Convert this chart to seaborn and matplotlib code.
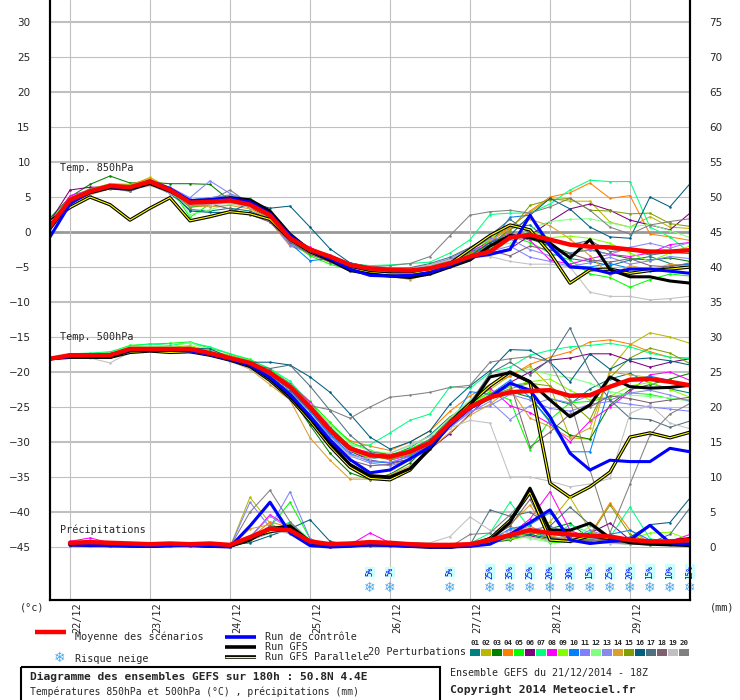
import matplotlib
matplotlib.use("Agg")
import matplotlib.pyplot as plt
import matplotlib.transforms as mtrans
from matplotlib.patches import Rectangle
import pandas as pd
import seaborn as sns

# ==============================================================================
# Data (GEFS ensemble, 6-hourly steps from 21/12 18Z)
# ==============================================================================
steps = list(range(33))
precip_steps = list(range(1, 33))

members = [f"{i:02d}" for i in range(1, 21)]
member_colors = ["#008080", "#b8b800", "#008000", "#ff8000", "#00ff00",
                 "#800080", "#00ff80", "#ff00ff", "#80ff00", "#0080ff",
                 "#8080ff", "#80ff80", "#8888ee", "#d8a030", "#80a000",
                 "#006080", "#507080", "#806070", "#c0c0c0", "#808080"]

date_labels = ["22/12", "23/12", "24/12", "25/12", "26/12", "27/12", "28/12", "29/12"]
date_steps = [1, 5, 9, 13, 17, 21, 25, 29]

snow_steps = [16, 17, 20, 22, 23, 24, 25, 26, 27, 28, 29, 30, 31, 32]
snow_pct = [5, 5, 5, 25, 35, 25, 20, 30, 15, 25, 20, 15, 10, 15]

# --- Temperature 850 hPa ---
t850_mean = [0.8, 4.6, 5.8, 6.6, 6.4, 7.2, 6.0, 4.2, 4.3, 4.5, 3.9, 2.4, -0.9, -2.5, -3.5, -4.7, -5.2, -5.4, -5.5, -5.2,
             -4.5, -3.5, -2.8, -0.8, -0.4, -1.1, -1.8, -2.1, -2.2, -2.5, -2.8, -2.8, -2.6]
t850_ctrl = [-0.7, 4.0, 5.8, 6.5, 6.3, 7.3, 6.2, 4.5, 4.6, 4.8, 4.3, 2.6, -0.5, -2.6, -3.8, -5.3, -6.2, -6.3, -6.2, -5.8,
             -4.8, -3.6, -3.2, -2.5, 2.4, -2.0, -5.0, -5.2, -5.9, -5.3, -5.3, -5.6, -5.9]
t850_gfs = [0.5, 4.2, 5.6, 6.3, 6.1, 6.9, 5.8, 4.3, 4.6, 4.9, 4.6, 3.0, -0.3, -2.6, -4.0, -5.5, -6.0, -6.3, -6.5, -6.0,
            -5.0, -4.0, -2.0, -0.5, -0.8, -1.6, -3.7, -1.1, -5.4, -6.4, -6.4, -7.0, -7.3]
t850_para = [1.5, 3.5, 5.0, 3.9, 1.7, 3.4, 4.9, 1.6, 2.2, 2.9, 2.6, 1.8, -1.0, -2.8, -4.0, -5.2, -5.8, -6.0, -6.0, -5.5,
             -4.5, -2.5, -0.5, 1.0, 0.3, -3.0, -7.3, -5.4, -5.3, -5.9, -5.5, -5.3, -5.0]
t850_members = [
    [1.2, 4.2, 5.5, 6.3, 6.0, 6.8, 5.5, 3.2, 3.0, 3.4, 3.0, 1.8, -1.3, -2.8, -3.7, -5.0, -5.5, -5.3, -5.6, -5.1, -4.2, -3.3, -2.0, 0.5, 1.0, -1.5, -3.8, -4.2, -4.8, -4.0, -3.5, -4.5, -5.2],
    [1.0, 4.8, 6.2, 6.8, 6.6, 7.8, 6.3, 4.6, 4.5, 4.8, 4.1, 2.8, -0.5, -2.3, -3.4, -4.6, -5.1, -5.6, -5.7, -5.4, -4.6, -3.2, -1.5, 0.8, 2.8, 4.8, 4.4, 4.4, 1.4, 0.7, 2.2, 0.7, 0.5],
    [2.0, 5.0, 6.8, 8.0, 7.0, 7.1, 6.9, 6.9, 6.8, 4.5, 3.5, 2.0, -1.5, -3.0, -4.0, -5.5, -5.8, -5.9, -5.9, -5.5, -4.8, -3.6, -2.4, -0.3, -1.0, -2.0, -3.0, -2.5, -3.2, -3.8, -4.0, -3.7, -4.2],
    [0.5, 4.5, 6.0, 6.9, 6.8, 7.6, 6.2, 4.0, 4.0, 4.2, 3.5, 1.5, -2.0, -3.0, -4.2, -5.0, -5.3, -5.8, -6.0, -5.4, -4.6, -3.3, -1.0, 0.6, 3.0, 5.0, 5.6, 7.0, 4.8, 5.2, -0.3, -0.7, -1.2],
    [1.8, 4.6, 5.9, 6.7, 6.6, 7.0, 6.4, 2.1, 4.0, 4.8, 4.8, 2.8, -1.4, -3.4, -4.6, -5.4, -5.5, -5.6, -5.4, -5.0, -4.4, -3.0, -1.2, -0.6, -1.5, -3.0, -4.0, -6.0, -6.5, -7.9, -6.8, -6.0, -6.3],
    [1.5, 6.0, 6.4, 6.4, 6.2, 7.0, 6.2, 4.5, 4.8, 4.6, 3.8, 2.2, -1.0, -2.4, -3.6, -4.8, -5.6, -6.0, -6.4, -6.0, -5.0, -3.8, -3.0, -2.4, -0.5, 1.5, 3.3, 4.0, 3.1, 1.7, 1.0, 0.3, 2.7],
    [0.9, 4.3, 5.6, 6.2, 6.1, 6.8, 5.6, 3.6, 3.9, 4.4, 3.7, 2.1, -1.1, -2.6, -3.9, -4.5, -4.8, -4.7, -4.5, -4.3, -3.0, -1.1, 2.5, 2.7, 2.7, 4.0, 6.0, 7.4, 7.2, 7.2, 0.7, -0.7, -3.0],
    [1.1, 5.2, 6.0, 6.5, 6.3, 7.1, 5.9, 4.4, 4.1, 4.3, 3.5, 2.5, -0.8, -2.2, -3.5, -4.9, -5.4, -5.5, -5.7, -5.1, -4.2, -2.8, -1.4, -0.2, -1.2, -4.0, -4.6, -3.8, -3.2, -3.5, -3.0, -1.8, -1.5],
    [1.3, 4.7, 6.1, 6.9, 6.7, 7.5, 6.1, 4.2, 4.4, 4.5, 4.0, 2.6, -0.6, -2.4, -3.3, -4.6, -5.0, -5.3, -5.4, -4.8, -4.0, -2.6, -1.0, 1.0, 0.2, -0.8, -0.6, -0.9, -1.6, -3.0, -4.2, -3.0, -2.0],
    [0.2, 4.1, 5.7, 6.4, 6.2, 7.0, 5.8, 4.6, 4.9, 5.2, 4.2, 2.3, -1.6, -4.1, -3.8, -4.9, -5.3, -5.7, -5.8, -5.3, -4.3, -2.9, -1.8, 2.1, 2.4, -1.5, -4.8, -5.0, -4.5, -5.2, -5.6, -4.8, -4.6],
    [0.8, 4.4, 5.9, 6.4, 6.5, 7.1, 6.4, 4.9, 7.3, 5.5, 4.4, 2.0, -1.9, -2.8, -3.3, -4.4, -5.0, -5.1, -5.2, -4.7, -3.8, -2.3, -2.8, -2.0, -3.6, -4.2, -4.9, -4.4, -3.6, -4.6, -4.1, -3.5, -3.8],
    [1.4, 4.9, 6.1, 6.6, 6.4, 7.3, 6.2, 2.5, 3.2, 4.0, 3.6, 2.7, -0.7, -2.7, -3.9, -5.6, -5.8, -6.0, -6.2, -5.6, -4.7, -3.6, -2.2, -1.6, 0.4, 1.5, 1.8, 1.9, 1.3, 0.7, 1.1, 0.2, -0.8],
    [0.6, 4.5, 5.8, 6.2, 5.8, 6.9, 5.5, 4.4, 4.9, 5.3, 4.5, 1.5, -1.8, -2.9, -3.6, -4.8, -5.2, -5.3, -5.4, -4.9, -4.0, -2.6, -0.9, -1.0, -2.5, -3.4, -3.0, -2.6, -3.2, -2.2, -1.6, -2.3, -1.5],
    [0.4, 4.0, 5.3, 6.2, 6.1, 7.5, 5.9, 3.8, 3.6, 3.8, 3.3, 1.9, -1.2, -2.6, -4.0, -5.3, -5.6, -6.3, -6.8, -5.9, -4.8, -3.4, -1.3, 0.4, 1.8, 0.9, -1.0, -3.4, -6.2, -4.8, -5.4, -4.6, -4.9],
    [1.0, 4.6, 6.2, 6.7, 6.5, 7.4, 6.1, 3.5, 3.9, 4.4, 3.8, 2.5, -0.8, -3.0, -4.3, -5.3, -5.5, -5.7, -5.5, -5.0, -4.1, -3.0, -1.9, 0.2, 3.8, 4.6, 4.8, 3.1, 3.0, 2.6, 2.7, 1.2, 0.8],
    [1.6, 4.4, 5.6, 6.3, 6.2, 6.9, 5.9, 3.0, 2.8, 2.8, 4.2, 3.4, 3.7, 0.7, -2.4, -4.4, -5.0, -5.6, -5.8, -5.2, -4.7, -3.4, -1.5, -0.5, 2.4, 4.8, 3.3, 0.7, -0.7, -0.9, 5.0, 3.6, 6.9],
    [1.1, 4.7, 5.9, 6.5, 6.4, 7.0, 5.8, 4.0, 4.2, 4.5, 3.8, 2.2, -1.0, -2.6, -3.7, -4.9, -5.1, -5.2, -5.1, -4.5, -3.6, -2.2, -0.5, 1.8, -0.2, -1.2, -1.8, -1.2, -2.8, -2.5, -3.3, -2.9, -3.1],
    [0.9, 4.3, 5.7, 6.4, 5.9, 7.0, 5.7, 3.8, 4.0, 3.3, 2.5, 1.4, -1.4, -3.2, -4.3, -5.6, -6.0, -6.1, -6.0, -5.4, -4.6, -3.5, -2.6, -3.4, -2.0, -2.6, -3.1, -4.0, -4.3, -3.8, -4.8, -5.0, -4.4],
    [0.7, 4.1, 5.4, 6.2, 6.0, 6.6, 5.6, 3.9, 3.9, 4.1, 3.6, 2.3, -1.0, -2.4, -3.4, -4.5, -5.0, -5.3, -5.3, -4.7, -4.0, -3.6, -3.5, -4.2, -4.6, -4.6, -5.0, -8.6, -9.2, -9.2, -9.7, -9.5, -9.2],
    [1.2, 4.9, 6.1, 6.6, 5.8, 7.0, 6.0, 4.0, 4.5, 6.0, 4.0, 2.0, -0.8, -2.5, -3.5, -4.6, -5.0, -4.8, -4.5, -3.5, -0.5, 2.4, 2.9, 3.1, 2.7, 3.6, 4.8, 3.1, 0.7, -0.3, 1.0, 1.5, 1.9],
]

# --- Temperature 500 hPa ---
t500_mean = [-18.1, -17.6, -17.6, -17.6, -16.7, -16.7, -16.7, -16.7, -17.3, -18.0, -18.7, -20.1, -22.1, -25.0, -28.3, -30.9,
             -31.9, -32.1, -31.4, -30.1, -27.3, -25.0, -23.6, -22.9, -22.7, -22.6, -23.4, -23.3, -22.1, -21.1, -21.0, -21.4, -21.9]
t500_ctrl = [-18.1, -17.8, -17.7, -17.5, -16.9, -16.8, -16.9, -17.0, -17.5, -18.2, -19.0, -20.8, -23.2, -26.3, -29.7, -32.5,
             -34.4, -34.0, -32.4, -30.7, -27.6, -25.2, -23.6, -21.6, -22.6, -26.4, -31.6, -34.0, -32.6, -32.8, -32.8, -30.9, -31.4]
t500_gfs = [-18.1, -17.7, -17.8, -17.9, -17.0, -16.9, -16.9, -16.9, -17.4, -18.2, -19.1, -21.0, -23.5, -26.6, -30.2, -33.2,
            -34.8, -35.0, -33.8, -31.0, -27.5, -24.8, -20.7, -20.1, -21.4, -24.0, -26.4, -24.7, -20.7, -22.1, -22.3, -22.2, -21.9]
t500_para = [-18.1, -17.9, -17.9, -17.9, -17.2, -17.0, -17.2, -17.1, -17.6, -18.3, -19.2, -21.2, -23.7, -27.0, -30.6, -33.6,
             -35.2, -35.4, -34.0, -30.8, -27.2, -24.5, -22.0, -20.0, -21.4, -35.9, -37.9, -36.4, -34.3, -29.3, -28.7, -29.4, -28.6]
t500_members = [
    [-18.0, -17.5, -17.4, -17.6, -16.8, -16.6, -16.8, -16.9, -17.5, -18.3, -19.2, -20.6, -22.8, -25.6, -28.9, -31.2, -32.4, -32.0, -30.8, -29.0, -26.4, -24.6, -23.5, -22.0, -21.5, -23.8, -24.6, -22.4, -21.0, -20.2, -21.6, -22.4, -23.0],
    [-18.1, -17.4, -17.5, -17.3, -16.6, -16.5, -16.6, -16.4, -17.0, -17.6, -18.4, -19.8, -21.9, -24.8, -28.0, -30.6, -31.8, -32.4, -31.6, -29.8, -26.5, -24.2, -22.5, -20.5, -19.2, -22.0, -29.4, -29.6, -19.6, -16.1, -14.4, -15.0, -15.9],
    [-18.1, -17.7, -17.8, -17.6, -16.9, -16.8, -16.7, -16.9, -17.4, -18.2, -19.3, -21.0, -23.4, -27.6, -31.6, -34.4, -35.4, -34.6, -33.0, -30.2, -27.0, -25.3, -23.9, -22.8, -23.6, -27.0, -29.0, -29.6, -24.7, -22.5, -21.8, -21.0, -20.2],
    [-18.1, -17.6, -17.5, -17.5, -16.6, -16.6, -16.5, -16.6, -17.2, -17.9, -18.5, -19.9, -22.0, -24.6, -27.5, -29.8, -30.6, -31.2, -30.0, -28.4, -25.6, -23.4, -21.8, -20.6, -18.9, -17.9, -17.1, -15.7, -15.4, -16.0, -17.1, -17.9, -18.0],
    [-18.0, -17.5, -17.4, -17.2, -16.2, -16.0, -15.9, -15.7, -16.6, -17.4, -18.2, -19.6, -21.6, -24.2, -27.2, -30.0, -31.2, -31.8, -31.0, -29.6, -27.2, -24.6, -22.8, -24.0, -31.1, -26.8, -24.4, -24.2, -23.6, -23.0, -23.2, -23.8, -24.0],
    [-18.1, -17.7, -17.6, -17.5, -16.8, -16.7, -16.6, -16.8, -17.4, -18.1, -18.8, -20.4, -22.5, -25.4, -28.6, -31.3, -32.6, -33.0, -32.5, -31.0, -28.8, -26.0, -23.4, -21.5, -20.0, -18.3, -18.0, -17.4, -17.4, -18.4, -19.3, -18.6, -18.1],
    [-18.0, -17.4, -17.3, -17.1, -16.3, -16.0, -16.2, -15.8, -16.4, -17.4, -18.3, -19.5, -21.3, -24.5, -27.8, -30.6, -30.4, -28.7, -26.9, -26.0, -22.1, -22.3, -20.1, -19.3, -17.6, -16.9, -16.4, -16.2, -15.9, -16.4, -17.3, -17.9, -18.1],
    [-18.1, -17.6, -17.7, -17.5, -16.7, -16.8, -16.7, -16.8, -17.3, -18.0, -18.7, -19.9, -21.7, -24.3, -27.9, -30.8, -31.5, -32.6, -31.9, -30.6, -27.6, -24.4, -22.3, -24.8, -25.8, -27.4, -30.0, -27.0, -25.0, -22.8, -20.4, -20.0, -21.2],
    [-18.1, -17.6, -17.5, -17.4, -16.5, -16.6, -16.5, -16.2, -17.0, -17.8, -18.6, -20.2, -22.3, -25.3, -28.5, -31.2, -32.3, -32.0, -31.2, -29.8, -27.0, -24.7, -23.0, -22.0, -21.4, -21.0, -22.6, -24.0, -23.5, -22.0, -21.5, -22.5, -23.6],
    [-18.1, -17.6, -17.6, -17.7, -16.8, -16.7, -16.8, -16.9, -17.4, -18.1, -18.9, -20.4, -22.5, -25.6, -29.0, -31.6, -32.8, -33.0, -32.0, -30.4, -27.6, -22.8, -23.2, -21.2, -23.6, -27.2, -31.4, -31.4, -22.0, -21.0, -20.6, -21.2, -22.0],
    [-18.1, -17.7, -17.6, -17.6, -16.7, -16.7, -16.8, -16.7, -17.5, -18.3, -19.2, -20.8, -23.0, -26.0, -29.2, -31.8, -32.7, -32.9, -32.1, -30.7, -28.0, -25.6, -24.8, -23.2, -24.0, -25.2, -25.6, -24.6, -24.2, -24.6, -25.0, -25.3, -25.6],
    [-18.0, -17.5, -17.4, -17.3, -16.4, -16.3, -16.4, -15.8, -16.9, -17.8, -18.5, -20.0, -21.8, -24.6, -27.5, -30.2, -31.3, -31.6, -30.6, -29.2, -26.6, -24.0, -21.8, -20.0, -19.6, -20.4, -20.8, -21.6, -22.8, -23.3, -23.5, -23.7, -24.2],
    [-18.1, -17.6, -17.7, -17.6, -16.8, -16.8, -16.7, -16.9, -17.6, -18.4, -19.3, -20.9, -23.2, -26.2, -29.5, -32.0, -33.0, -33.4, -32.6, -30.9, -27.9, -25.8, -24.2, -26.8, -24.8, -23.8, -24.4, -23.4, -24.0, -23.0, -22.6, -23.3, -24.2],
    [-18.1, -17.8, -17.8, -17.7, -17.0, -16.9, -17.0, -17.1, -17.6, -18.4, -19.6, -21.8, -24.0, -29.4, -32.6, -35.3, -35.3, -34.7, -33.4, -31.0, -28.6, -26.2, -24.6, -22.4, -26.6, -27.8, -29.4, -28.0, -20.0, -20.4, -20.8, -21.4, -22.0],
    [-18.1, -17.6, -17.6, -17.5, -16.7, -16.6, -16.6, -16.6, -17.2, -18.0, -18.7, -20.2, -22.2, -25.0, -28.4, -31.0, -32.0, -32.5, -31.8, -30.2, -27.4, -25.0, -23.4, -22.4, -21.6, -22.0, -24.2, -26.8, -20.8, -18.0, -16.6, -17.3, -18.8],
    [-18.1, -17.5, -17.5, -17.4, -16.6, -16.6, -16.6, -16.6, -16.7, -17.9, -18.6, -18.6, -19.0, -20.7, -22.9, -26.0, -29.3, -31.0, -30.0, -28.4, -24.6, -22.0, -19.8, -16.8, -16.9, -18.6, -21.4, -17.4, -19.6, -18.2, -18.0, -18.4, -19.0],
    [-18.1, -17.7, -17.6, -17.6, -16.8, -16.7, -16.7, -16.8, -17.3, -18.1, -18.9, -19.5, -19.0, -22.0, -25.5, -29.0, -31.4, -31.8, -31.2, -29.6, -26.8, -24.4, -20.2, -18.6, -20.4, -18.2, -13.7, -20.0, -24.0, -26.6, -26.8, -27.9, -27.0],
    [-18.1, -17.7, -17.8, -17.7, -16.9, -16.8, -16.9, -17.0, -17.6, -18.4, -19.4, -21.2, -23.6, -27.0, -30.2, -32.6, -33.4, -33.2, -32.4, -30.4, -27.8, -25.2, -23.2, -21.6, -30.7, -28.6, -26.0, -25.0, -23.4, -23.8, -24.4, -24.0, -23.6],
    [-18.1, -17.8, -18.0, -18.7, -17.2, -17.0, -17.1, -17.0, -17.6, -18.5, -19.5, -21.4, -23.8, -26.4, -29.6, -32.0, -32.4, -31.6, -30.4, -29.2, -28.0, -26.9, -27.3, -35.0, -35.0, -35.6, -36.4, -36.0, -35.2, -25.9, -24.7, -27.3, -28.1],
    [-18.1, -17.6, -17.6, -17.5, -16.7, -16.8, -16.7, -16.7, -17.4, -18.2, -19.0, -20.4, -22.4, -24.8, -25.4, -26.6, -25.0, -23.6, -23.3, -22.9, -22.2, -21.9, -18.6, -18.1, -17.8, -18.6, -24.0, -34.0, -43.0, -36.0, -29.0, -26.0, -24.5],
]

# --- Precipitation (mm per 6 h, from +6 h) ---
pr_mean = [0.6, 0.7, 0.6, 0.5, 0.4, 0.5, 0.4, 0.5, 0.3, 1.4, 2.6, 2.4, 0.8, 0.4, 0.5, 0.7, 0.6, 0.4, 0.3, 0.3,
           0.4, 1.0, 1.7, 2.4, 2.0, 1.8, 1.6, 1.5, 1.0, 0.8, 0.8, 1.0]
pr_ctrl = [0.3, 0.2, 0.2, 0.1, 0.1, 0.2, 0.2, 0.1, 0.0, 3.0, 6.4, 2.0, 0.2, 0.0, 0.1, 0.3, 0.2, 0.1, 0.0, 0.0,
           0.1, 0.4, 1.8, 3.5, 5.3, 1.0, 0.5, 0.8, 1.0, 3.1, 0.6, 0.4]
pr_gfs = [0.4, 0.3, 0.3, 0.2, 0.1, 0.3, 0.2, 0.2, 0.1, 1.0, 2.6, 3.0, 0.8, 0.1, 0.2, 0.4, 0.3, 0.2, 0.0, 0.0,
          0.2, 1.0, 3.5, 8.4, 2.4, 2.4, 3.4, 1.3, 0.6, 0.4, 0.3, 0.2]
pr_para = [0.3, 0.3, 0.2, 0.2, 0.1, 0.2, 0.3, 0.1, 0.1, 1.4, 2.2, 2.6, 0.6, 0.1, 0.2, 0.3, 0.3, 0.1, 0.0, 0.0,
           0.3, 1.2, 3.8, 7.8, 1.0, 0.8, 1.6, 1.2, 1.0, 0.6, 0.8, 1.2]
pr_members = [
    [0.3, 0.4, 0.2, 0.2, 0.1, 0.2, 0.2, 0.1, 0.0, 1.5, 2.4, 2.0, 0.6, 0.1, 0.2, 0.4, 0.3, 0.1, 0.0, 0.0, 0.2, 0.8, 1.6, 2.2, 1.4, 1.0, 2.0, 1.2, 0.6, 0.8, 0.5, 0.4],
    [0.2, 0.3, 0.3, 0.2, 0.1, 0.1, 0.2, 0.1, 0.0, 7.1, 3.4, 1.8, 0.4, 0.0, 0.1, 0.3, 0.2, 0.1, 0.0, 0.0, 0.3, 1.4, 3.0, 1.5, 3.6, 7.1, 2.4, 0.8, 0.5, 0.4, 0.6, 0.8],
    [0.5, 0.4, 0.3, 0.2, 0.1, 0.2, 0.1, 0.1, 0.0, 0.8, 3.0, 2.6, 0.5, 0.0, 0.1, 0.2, 0.2, 0.1, 0.0, 0.0, 0.1, 0.6, 1.0, 1.8, 2.6, 3.4, 1.2, 0.6, 0.4, 0.3, 0.5, 0.9],
    [0.3, 0.3, 0.2, 0.1, 0.1, 0.2, 0.2, 0.2, 0.1, 1.2, 3.6, 2.8, 0.4, 0.0, 0.2, 0.3, 0.2, 0.1, 0.0, 0.0, 0.2, 1.2, 2.0, 3.0, 1.6, 0.9, 1.8, 6.3, 2.4, 0.6, 0.4, 0.5],
    [0.4, 0.4, 0.3, 0.2, 0.1, 0.1, 0.2, 0.1, 0.0, 0.9, 2.8, 6.4, 1.2, 0.1, 0.2, 0.3, 0.2, 0.1, 0.0, 0.0, 0.2, 0.8, 1.4, 2.0, 0.6, 0.8, 1.0, 1.4, 0.8, 0.5, 0.3, 0.4],
    [0.6, 0.5, 0.3, 0.2, 0.2, 0.2, 0.1, 0.1, 0.0, 1.0, 2.0, 3.2, 0.6, 0.0, 0.1, 0.3, 0.3, 0.1, 0.0, 0.0, 0.1, 0.6, 1.2, 1.6, 1.0, 1.4, 2.0, 3.4, 1.0, 0.6, 0.4, 0.5],
    [0.3, 0.2, 0.2, 0.1, 0.1, 0.2, 0.2, 0.1, 0.0, 1.2, 2.2, 3.6, 1.0, 0.1, 0.2, 0.4, 0.3, 0.1, 0.0, 0.1, 0.5, 2.0, 6.4, 2.6, 1.2, 3.2, 2.0, 1.4, 5.7, 1.2, 0.6, 0.5],
    [0.8, 1.3, 0.6, 0.3, 0.2, 0.3, 0.2, 0.1, 0.0, 1.4, 4.6, 2.8, 0.5, 0.1, 0.3, 2.0, 0.6, 0.2, 0.0, 0.0, 0.2, 1.0, 1.8, 4.0, 7.9, 2.4, 1.2, 0.9, 0.7, 0.6, 0.8, 1.8],
    [0.3, 0.3, 0.2, 0.2, 0.1, 0.1, 0.2, 0.1, 0.0, 1.0, 2.6, 3.0, 0.8, 0.1, 0.2, 0.3, 0.2, 0.1, 0.0, 0.0, 0.2, 0.6, 1.2, 1.4, 1.0, 1.6, 1.2, 0.9, 1.1, 2.0, 2.1, 1.0],
    [0.2, 0.3, 0.2, 0.1, 0.1, 0.2, 0.1, 0.1, 0.0, 1.6, 2.2, 2.4, 0.7, 0.0, 0.1, 0.3, 0.2, 0.1, 0.0, 0.0, 0.2, 0.9, 2.6, 3.2, 4.9, 1.6, 1.0, 1.8, 2.4, 1.0, 0.6, 0.4],
    [0.4, 0.3, 0.2, 0.2, 0.1, 0.2, 0.2, 0.1, 0.0, 6.4, 2.8, 7.9, 1.2, 0.1, 0.2, 0.4, 0.3, 0.2, 0.0, 0.0, 0.3, 1.2, 2.4, 2.6, 1.4, 1.0, 2.4, 1.4, 1.0, 0.7, 0.5, 0.6],
    [0.3, 0.4, 0.3, 0.2, 0.1, 0.1, 0.2, 0.1, 0.0, 1.1, 2.0, 3.4, 0.9, 0.1, 0.2, 0.3, 0.2, 0.1, 0.0, 0.0, 0.2, 1.4, 1.8, 1.2, 0.7, 0.9, 3.0, 1.6, 1.2, 0.8, 0.4, 0.6],
    [0.3, 0.3, 0.2, 0.1, 0.1, 0.2, 0.2, 0.1, 0.0, 1.3, 4.4, 2.6, 0.6, 0.1, 0.1, 0.3, 0.2, 0.1, 0.0, 0.0, 0.2, 1.0, 1.6, 2.4, 3.0, 1.8, 1.4, 0.8, 1.2, 0.6, 0.5, 0.4],
    [0.2, 0.3, 0.2, 0.2, 0.1, 0.1, 0.1, 0.1, 0.0, 2.6, 3.2, 2.2, 0.4, 0.0, 0.2, 0.4, 0.3, 0.1, 0.0, 0.0, 0.2, 1.4, 3.2, 6.0, 1.6, 1.0, 0.9, 1.4, 0.8, 0.6, 0.5, 0.7],
    [0.3, 0.3, 0.2, 0.1, 0.1, 0.2, 0.2, 0.1, 0.0, 0.9, 2.4, 3.4, 0.8, 0.1, 0.2, 0.3, 0.2, 0.1, 0.0, 0.0, 0.1, 0.9, 1.8, 2.2, 1.2, 0.8, 1.6, 6.0, 1.8, 0.6, 0.8, 0.9],
    [0.4, 0.3, 0.3, 0.2, 0.1, 0.2, 0.1, 0.1, 0.3, 0.6, 1.6, 2.6, 3.9, 0.8, 0.3, 0.4, 0.4, 0.6, 0.5, 0.4, 0.3, 0.8, 1.4, 1.8, 1.2, 1.0, 0.8, 1.2, 1.4, 3.2, 3.5, 7.0],
    [0.3, 0.4, 0.2, 0.2, 0.1, 0.2, 0.2, 0.1, 0.0, 1.0, 2.6, 2.8, 0.7, 0.1, 0.3, 0.4, 0.3, 0.2, 0.1, 0.0, 0.3, 5.3, 4.4, 5.0, 3.0, 5.7, 3.2, 1.0, 0.8, 0.6, 1.8, 5.6],
    [0.4, 0.3, 0.2, 0.2, 0.1, 0.2, 0.2, 0.1, 0.0, 1.2, 3.0, 2.4, 0.5, 0.0, 0.1, 0.3, 0.2, 0.1, 0.0, 0.0, 0.2, 1.2, 3.0, 6.8, 1.4, 0.8, 1.0, 0.7, 0.6, 0.5, 0.4, 0.6],
    [0.3, 0.3, 0.2, 0.2, 0.1, 0.1, 0.2, 0.1, 0.0, 1.0, 2.2, 2.0, 0.6, 0.1, 0.1, 0.3, 0.4, 0.2, 0.6, 1.5, 4.3, 2.4, 2.0, 1.4, 0.9, 0.7, 0.6, 0.5, 0.4, 0.4, 0.3, 0.4],
    [0.3, 0.3, 0.2, 0.2, 0.1, 0.2, 0.2, 0.1, 0.0, 5.0, 8.1, 3.6, 0.8, 0.1, 0.2, 0.3, 0.2, 0.1, 0.0, 0.0, 1.8, 2.0, 4.6, 7.7, 2.0, 1.2, 1.0, 0.8, 0.6, 0.5, 0.4, 0.5],
]


def member_frame(block, field, xs):
    rows = []
    for name, vals in zip(members, block):
        for x, v in zip(xs, vals):
            rows.append((x, v, name, field))
    return pd.DataFrame(rows, columns=["step", "value", "member", "field"])


def run_frame(pairs):
    rows = []
    for field, xs, vals in pairs:
        for x, v in zip(xs, vals):
            rows.append((x, v, field))
    return pd.DataFrame(rows, columns=["step", "value", "field"])


temp_members = pd.concat([member_frame(t850_members, "t850", steps),
                          member_frame(t500_members, "t500", steps)])
rain_members = member_frame(pr_members, "precip", precip_steps)
palette = dict(zip(members, member_colors))

# ==============================================================================
# Figure
# ==============================================================================
sns.set_style("white")
plt.rcParams["font.family"] = ["DejaVu Sans"]
MONO = "DejaVu Sans Mono"

fig = plt.figure(figsize=(7.4, 7.0), dpi=100)
ax = fig.add_axes([50 / 740, 100 / 700, 640 / 740, 600 / 700])
ax.set_xlim(0, 32)
ax.set_ylim(-368 / 7, 232 / 7)

# grid
for v in range(-45, 31, 5):
    if v == 0:
        ax.axhline(v, color="#999999", lw=2.0, zorder=0)
    else:
        ax.axhline(v, color="#c0c0c0", lw=1.5 if v % 10 == 0 else 0.8, zorder=0)
for s in date_steps:
    ax.axvline(s, color="#c0c0c0", lw=0.8, zorder=0)

line_kws = dict(estimator=None, legend=False, sort=False)

sns.lineplot(data=temp_members, x="step", y="value", hue="member", units="field",
             palette=palette, linewidth=0.75, marker="o", markersize=1.8,
             markeredgewidth=0, ax=ax, **line_kws)

para_t = run_frame([("t850", steps, t850_para), ("t500", steps, t500_para)])
gfs_t = run_frame([("t850", steps, t850_gfs), ("t500", steps, t500_gfs)])
ctrl_t = run_frame([("t850", steps, t850_ctrl), ("t500", steps, t500_ctrl)])
mean_t = run_frame([("t850", steps, t850_mean), ("t500", steps, t500_mean)])

sns.lineplot(data=para_t, x="step", y="value", units="field", color="black", linewidth=2.4, ax=ax, **line_kws)
sns.lineplot(data=para_t, x="step", y="value", units="field", color="#ffff00", linewidth=0.8, ax=ax, **line_kws)
sns.lineplot(data=gfs_t, x="step", y="value", units="field", color="black", linewidth=2.2, ax=ax, **line_kws)
sns.lineplot(data=ctrl_t, x="step", y="value", units="field", color="#0000ff", linewidth=2.2, ax=ax, **line_kws)
sns.lineplot(data=mean_t, x="step", y="value", units="field", color="#ff0000", linewidth=3.2, ax=ax, **line_kws)

# precipitation on the mm axis (right)
ax2 = ax.twinx()
lo, hi = ax.get_ylim()
ax2.set_ylim(lo + 45, hi + 45)
sns.lineplot(data=rain_members, x="step", y="value", hue="member", units="field",
             palette=palette, linewidth=0.75, marker="o", markersize=1.8,
             markeredgewidth=0, ax=ax2, **line_kws)
for vals, col, lw in [(pr_para, "black", 2.4), (pr_para, "#ffff00", 0.8),
                      (pr_gfs, "black", 2.2), (pr_ctrl, "#0000ff", 2.2),
                      (pr_mean, "#ff0000", 3.2)]:
    sns.lineplot(x=precip_steps, y=vals, color=col, linewidth=lw, ax=ax2,
                 estimator=None, sort=False)

# axes styling
for a in (ax, ax2):
    a.set_xlabel("")
    a.set_ylabel("")
    a.set_xticks([])
    a.spines["top"].set_visible(False)
    for side in ("left", "right", "bottom"):
        a.spines[side].set_color("black")
        a.spines[side].set_linewidth(1.5)
ax.set_yticks(range(-45, 31, 5))
ax.tick_params(axis="y", length=0, pad=14, labelsize=7.5)
ax2.set_yticks(range(0, 76, 5))
ax2.tick_params(axis="y", length=0, pad=14, labelsize=7.5)

# panel titles inside the plot
for yf, label in [(0.72, "Temp. 850hPa"), (0.438, "Temp. 500hPa"), (0.117, "Précipitations")]:
    ax.text(10 / 640, yf, label, transform=ax.transAxes, family=MONO, fontsize=7.3,
            va="center", ha="left")

# date labels
date_tr = mtrans.blended_transform_factory(ax.transData, ax.transAxes) + \
    mtrans.ScaledTranslation(2 / 100, 0, fig.dpi_scale_trans)
for s, lab in zip(date_steps, date_labels):
    ax.text(s, -0.004, lab, transform=date_tr, rotation=90, ha="left", va="top",
            family=MONO, fontsize=7.3)

# snow risk
snow_tr = mtrans.blended_transform_factory(ax.transData, ax.transAxes)
for s, p in zip(snow_steps, snow_pct):
    ax.text(s, 0.02, "❄", transform=snow_tr, ha="center", va="center",
            color="#4aa8ec", fontsize=10)
    ax.text(s, 0.047, f"{p}%", transform=snow_tr, ha="center", va="center",
            rotation=90, color="#0000ff", family=MONO, fontsize=5.5,
            bbox=dict(facecolor="#c8ffff", edgecolor="none", pad=0.4))

# ==============================================================================
# Legend / captions (pixel overlay)
# ==============================================================================
ov = fig.add_axes([0, 0, 1, 1], zorder=5)
ov.set_xlim(0, 740)
ov.set_ylim(700, 0)
ov.axis("off")

txt = dict(family=MONO, fontsize=7.3, va="center", ha="left")
ov.text(20, 607, "(°c)", **txt)
ov.text(710, 607, "(mm)", **txt)

ov.plot([35, 66], [632, 632], color="#ff0000", lw=3.2, solid_capstyle="butt")
ov.text(75, 637, "Moyenne des scénarios", **txt)
ov.text(60, 658, "❄", color="#4aa8ec", fontsize=10, ha="center", va="center")
ov.text(75, 659, "Risque neige", **txt)

ov.plot([225, 256], [637, 637], color="#0000ff", lw=2.6, solid_capstyle="butt")
ov.text(265, 637, "Run de contrôle", **txt)
ov.plot([225, 256], [647, 647], color="black", lw=2.6, solid_capstyle="butt")
ov.text(265, 647, "Run GFS", **txt)
ov.plot([225, 256], [657, 657], color="black", lw=2.6, solid_capstyle="butt")
ov.plot([225, 256], [657, 657], color="#ffff00", lw=0.8, solid_capstyle="butt")
ov.text(265, 657, "Run GFS Parallele", **txt)

ov.text(466, 652, "20 Perturbations", family=MONO, fontsize=7.3, va="center", ha="right")
for i, (name, col) in enumerate(zip(members, member_colors)):
    ov.add_patch(Rectangle((470 + 11 * i, 649), 10, 7, facecolor=col, edgecolor="none"))
    ov.text(475 + 11 * i, 643, name, family=MONO, fontsize=5.3, weight="bold",
            ha="center", va="center")

ov.add_patch(Rectangle((20.5, 667), 419.5, 40, fill=False, edgecolor="black", lw=1.5))
ov.text(30, 677, "Diagramme des ensembles GEFS sur 180h : 50.8N 4.4E", family=MONO,
        fontsize=8.1, weight="bold", va="center", ha="left")
ov.text(30, 692, "Températures 850hPa et 500hPa (°C) , précipitations (mm)", family=MONO,
        fontsize=7.0, va="center", ha="left")
ov.text(450, 673, "Ensemble GEFS du 21/12/2014 - 18Z", family=MONO, fontsize=7.2,
        va="center", ha="left")
ov.text(450, 690, "Copyright 2014 Meteociel.fr", family=MONO, fontsize=8.2,
        weight="bold", va="center", ha="left")

fig.savefig("out.png", dpi=100, facecolor="white")
